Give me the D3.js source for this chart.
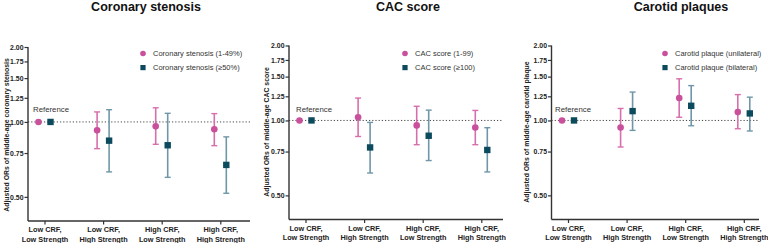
<!DOCTYPE html>
<html lang="en">

<head>
    <meta charset="UTF-8">
    <title>Adjusted ORs</title>
    <script src="https://unpkg.com/d3@7.8.0/dist/d3.min.js"></script>
    <style>
        body {
            margin: 0px;
            background: #fff;
        }

        text {
            font-family: "Liberation Sans", Arial, sans-serif;
        }
    </style>
</head>

<body>
    <script>
        // data
        const categories = [
            ['Low CRF,', 'Low Strength'],
            ['Low CRF,', 'High Strength'],
            ['High CRF,', 'Low Strength'],
            ['High CRF,', 'High Strength']
        ];
        const yTicks = [0.5, 0.75, 1.0, 1.25, 1.5, 1.75, 2.0];
        const panelTitles = ['Coronary stenosis', 'CAC score', 'Carotid plaques'];
        const yTitles = [
            'Adjusted ORs of middle-age coronary stenosis',
            'Adjusted ORs of middle-age CAC score',
            'Adjusted ORs of middle-age carotid plaque'
        ];
        const seriesNames = [
            ['Coronary stenosis (1-49%)', 'Coronary stenosis (\u226550%)'],
            ['CAC score (1-99)', 'CAC score (\u2265100)'],
            ['Carotid plaque (unilateral)', 'Carotid plaque (bilateral)']
        ];

        // [or, lower, upper] per category
        const stenosisMild = [[1, 1, 1], [0.925, 0.781, 1.097], [0.96, 0.813, 1.14], [0.934, 0.803, 1.08]];
        const stenosisSevere = [[1, 1, 1], [0.841, 0.63, 1.12], [0.806, 0.599, 1.083], [0.672, 0.517, 0.871]];
        const cacLow = [[1, 1, 1], [1.03, 0.862, 1.23], [0.955, 0.799, 1.14], [0.937, 0.799, 1.097]];
        const cacHigh = [[1, 1, 1], [0.779, 0.615, 0.982], [0.868, 0.69, 1.10], [0.761, 0.621, 0.935]];
        const plaqueUni = [[1, 1, 1], [0.937, 0.782, 1.117], [1.23, 1.03, 1.47], [1.08, 0.926, 1.27]];
        const plaqueBi = [[1, 1, 1], [1.09, 0.912, 1.30], [1.145, 0.952, 1.38], [1.067, 0.907, 1.24]];

        const panelSeries = [
            [stenosisMild, stenosisSevere],
            [cacLow, cacHigh],
            [plaqueUni, plaqueBi]
        ];

        const pink = '#c9509a';
        const pinkBar = '#d76fac';
        const navy = '#0c4a5e';
        const navyBar = '#6f97a8';

        // layout per panel
        const panels = [
            { x0: 28, xEnd: 250, yBottom: 221, yTop: 47, titleX: 146, yTitleX: 6, yTitleY: 135, legendX: 143, refX: 33 },
            { x0: 289, xEnd: 503, yBottom: 219.5, yTop: 45.5, titleX: 408, yTitleX: 266, yTitleY: 132, legendX: 405, refX: 296 },
            { x0: 551.5, xEnd: 759, yBottom: 219.5, yTop: 45.5, titleX: 681, yTitleX: 526, yTitleY: 132, legendX: 665, refX: 555 }
        ];

        const svg = d3.select('body').append('svg')
            .attr('width', 768)
            .attr('height', 243);

        panels.forEach((p, i) => drawPanel(svg.append('g'), p, i));

        function drawPanel(g, p, i) {
            const xScale = d3.scalePoint()
                .domain(d3.range(categories.length))
                .range([p.x0 + 16.5, p.x0 + 16.5 + 3 * 58.6]);

            const yScale = d3.scaleLog()
                .domain([0.4, 2.0])
                .range([p.yBottom, p.yTop]);

            // title
            g.append('text')
                .attr('x', p.titleX)
                .attr('y', 11)
                .attr('text-anchor', 'middle')
                .style('font-size', '12.5px')
                .style('font-weight', 'bold')
                .attr('fill', '#111')
                .text(panelTitles[i]);

            // reference line
            g.append('line')
                .attr('x1', p.x0)
                .attr('x2', p.xEnd)
                .attr('y1', yScale(1))
                .attr('y2', yScale(1))
                .attr('stroke', '#444')
                .attr('stroke-width', 1)
                .attr('stroke-dasharray', '1.2,2');

            // y axis
            const yAxis = d3.axisLeft(yScale)
                .tickValues(yTicks)
                .tickFormat(d3.format('.2f'))
                .tickSize(3.5)
                .tickSizeOuter(0);
            const yAxisG = g.append('g')
                .attr('transform', `translate(${p.x0},0)`)
                .call(yAxis);
            yAxisG.select('.domain')
                .attr('d', `M0,${p.yTop}V${p.yBottom}`)
                .attr('stroke', '#333')
                .attr('stroke-width', 1.4);
            yAxisG.selectAll('.tick line')
                .attr('stroke', '#333')
                .attr('stroke-width', 1.2);
            yAxisG.selectAll('.tick text')
                .attr('x', -4.5)
                .style('font-size', '6.9px')
                .style('font-weight', 'bold')
                .style('font-family', '"Liberation Sans", Arial, sans-serif')
                .attr('fill', '#222');

            // x axis
            const xAxis = d3.axisBottom(xScale)
                .tickSize(3.5)
                .tickSizeOuter(0)
                .tickFormat('');
            const xAxisG = g.append('g')
                .attr('transform', `translate(0,${p.yBottom})`)
                .call(xAxis);
            xAxisG.select('.domain')
                .attr('d', `M${p.x0},0H${p.xEnd}`)
                .attr('stroke', '#333')
                .attr('stroke-width', 1.4);
            xAxisG.selectAll('.tick line')
                .attr('stroke', '#333')
                .attr('stroke-width', 1.2);
            xAxisG.selectAll('.tick').each(function (d) {
                const t = d3.select(this).append('text')
                    .attr('text-anchor', 'middle')
                    .attr('fill', '#222')
                    .style('font-size', '7.3px')
                    .style('font-weight', 'bold')
                    .style('font-family', '"Liberation Sans", Arial, sans-serif');
                t.append('tspan').attr('x', 0).attr('y', 11).text(categories[d][0]);
                t.append('tspan').attr('x', 0).attr('y', 20.5).text(categories[d][1]);
            });

            // y axis title
            g.append('text')
                .attr('transform', `translate(${p.yTitleX + 3},${p.yTitleY}) rotate(-90)`)
                .attr('text-anchor', 'middle')
                .style('font-size', '6.9px')
                .style('font-weight', 'bold')
                .attr('fill', '#222')
                .text(yTitles[i]);

            // Reference label
            g.append('text')
                .attr('x', p.refX)
                .attr('y', 112)
                .style('font-size', '7.8px')
                .attr('fill', '#333')
                .text('Reference');

            // series
            const offsets = [-6, 6];
            const markColors = [pink, navy];
            const barColors = [pinkBar, navyBar];
            panelSeries[i].forEach((series, s) => {
                const sg = g.append('g');
                series.forEach((v, c) => {
                    const cx = xScale(c) + offsets[s];
                    if (v[1] !== v[2]) {
                        sg.append('line')
                            .attr('x1', cx).attr('x2', cx)
                            .attr('y1', yScale(v[1])).attr('y2', yScale(v[2]))
                            .attr('stroke', barColors[s])
                            .attr('stroke-width', 1.6);
                        [v[1], v[2]].forEach(e => {
                            sg.append('line')
                                .attr('x1', cx - 3).attr('x2', cx + 3)
                                .attr('y1', yScale(e)).attr('y2', yScale(e))
                                .attr('stroke', barColors[s])
                                .attr('stroke-width', 1.4);
                        });
                    }
                    if (s === 0) {
                        sg.append('circle')
                            .attr('cx', cx).attr('cy', yScale(v[0]))
                            .attr('r', 3.3)
                            .attr('fill', markColors[s]);
                    } else {
                        sg.append('rect')
                            .attr('x', cx - 3.2).attr('y', yScale(v[0]) - 3.2)
                            .attr('width', 6.4).attr('height', 6.4)
                            .attr('fill', markColors[s]);
                    }
                });
            });

            // legend
            const legend = g.append('g');
            legend.append('circle')
                .attr('cx', p.legendX).attr('cy', 53.5)
                .attr('r', 2.8)
                .attr('fill', pink);
            legend.append('rect')
                .attr('x', p.legendX - 2.6).attr('y', 65)
                .attr('width', 5.2).attr('height', 5.2)
                .attr('fill', navy);
            seriesNames[i].forEach((name, s) => {
                legend.append('text')
                    .attr('x', p.legendX + 10)
                    .attr('y', 56.3 + s * 14)
                    .style('font-size', '7.5px')
                    .attr('fill', '#333')
                    .text(name);
            });
        }
    </script>
</body>

</html>
